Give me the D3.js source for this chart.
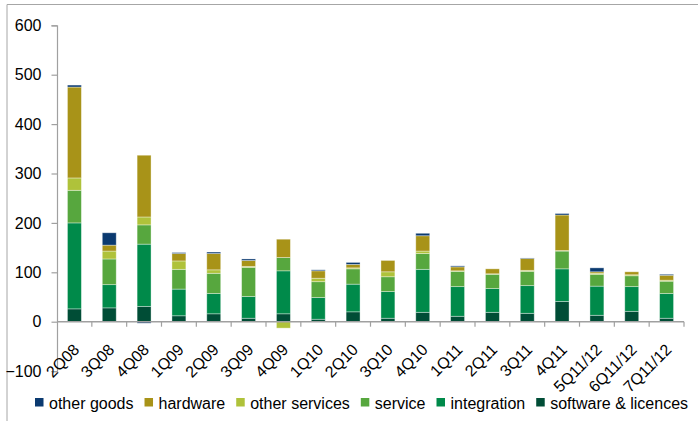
<!DOCTYPE html>
<html>
<head>
<meta charset="utf-8">
<script src="https://cdn.jsdelivr.net/npm/d3@7"></script>
<style>
  html, body { margin: 0; padding: 0; background: #fff; }
  svg { display: block; }
  text { font-family: "Liberation Sans", Arial, sans-serif; fill: #000; }
</style>
</head>
<body>
<svg id="chart" width="698" height="421"></svg>
<script>
// Quarters on the x axis
const categories = ["2Q08","3Q08","4Q08","1Q09","2Q09","3Q09","4Q09","1Q10","2Q10","3Q10",
                    "4Q10","1Q11","2Q11","3Q11","4Q11","5Q11/12","6Q11/12","7Q11/12"];

// Series values per quarter (stacked bottom to top)
const softwareLicences = [26, 28, 31, 12, 16, 7, 16, 5, 20, 7, 19, 11, 19, 17, 41, 13, 21, 7];
const integration      = [174, 47, 126, 54, 41, 44, 87, 44, 56, 54, 87, 60, 48, 56, 66, 59, 50, 50];
const service          = [66, 52, 39, 40, 41, 59, 27, 32, 31, 30, 32, 31, 29, 29, 36, 24, 22, 25];
const otherServices    = [25, 16, 16, 17, 7, 2, -13, 7, 2, 10, 5, 1, 1, 2, 1, 2, 2, 2];
const hardware         = [184, 12, 125, 15, 33, 12, 37, 15, 7, 23, 31, 8, 10, 24, 72, 3, 6, 10];
const otherGoods       = [4, 25, -3, 2, 3, 3, 0, 2, 4, 0, 5, 2, 0, 1, 3, 8, 0, 2];

// Y axis tick values
const yTicks = [-100, 0, 100, 200, 300, 400, 500, 600];

// Series definitions in stacking order
const series = [
  { key: "software & licences", values: softwareLicences, color: "#004d36" },
  { key: "integration",         values: integration,      color: "#008a4a" },
  { key: "service",             values: service,          color: "#57a73e" },
  { key: "other services",      values: otherServices,    color: "#afc23a" },
  { key: "hardware",            values: hardware,         color: "#a89318" },
  { key: "other goods",         values: otherGoods,       color: "#0b3a70" }
];
// Legend order
const legendOrder = ["other goods", "hardware", "other services", "service", "integration", "software & licences"];

const rows = categories.map((c, i) => {
  const r = { category: c };
  series.forEach(s => { r[s.key] = s.values[i]; });
  return r;
});

const svg = d3.select("#chart");
const margin = { left: 57, right: 684, top: 25.3, bottom: 371.1 };

const x = d3.scaleBand()
  .domain(categories)
  .range([margin.left, margin.right])
  .paddingInner(0.6)
  .paddingOuter(0.3);

const y = d3.scaleLinear()
  .domain([-100, 600])
  .range([margin.bottom, margin.top]);

const color = d3.scaleOrdinal()
  .domain(series.map(s => s.key))
  .range(series.map(s => s.color));

// Outer frame lines
svg.append("line").attr("x1", 7).attr("x2", 698).attr("y1", 4.5).attr("y2", 4.5)
  .attr("stroke", "#a6a6a6").attr("stroke-width", 1);
svg.append("line").attr("x1", 7).attr("x2", 7).attr("y1", 4.5).attr("y2", 421)
  .attr("stroke", "#a6a6a6").attr("stroke-width", 1);

// Stacked bars
const stack = d3.stack()
  .keys(series.map(s => s.key))
  .offset(d3.stackOffsetDiverging);
const stacked = stack(rows);

const layers = svg.append("g").selectAll("g")
  .data(stacked)
  .join("g")
  .attr("fill", d => color(d.key));

layers.selectAll("rect")
  .data(d => d.filter(p => p[1] !== p[0]))
  .join("rect")
  .attr("x", d => x(d.data.category))
  .attr("width", x.bandwidth())
  .attr("y", d => y(Math.max(d[0], d[1])))
  .attr("height", d => Math.abs(y(d[0]) - y(d[1])))
  .attr("stroke", "#ffffff")
  .attr("stroke-opacity", 0.45)
  .attr("stroke-width", 0.8);

// Y axis
const yAxis = d3.axisLeft(y).tickValues(yTicks).tickSize(5.5).tickPadding(10);
const yG = svg.append("g")
  .attr("transform", `translate(${margin.left},0)`)
  .call(yAxis);
yG.select(".domain").attr("stroke", "#a0a0a0").attr("stroke-width", 1.2);
yG.selectAll(".tick line").attr("stroke", "#a0a0a0").attr("stroke-width", 1.2);
yG.selectAll(".tick text")
  .style("font-family", "'Liberation Sans', Arial, sans-serif")
  .style("font-size", "16px")
  .attr("fill", "#000");

// X axis at zero with tick marks between categories
const step = x.step();
const xG = svg.append("g");
xG.append("line")
  .attr("x1", margin.left).attr("x2", margin.right)
  .attr("y1", y(0)).attr("y2", y(0))
  .attr("stroke", "#a0a0a0").attr("stroke-width", 1.5);
xG.selectAll("line.tick")
  .data(categories)
  .join("line")
  .attr("class", "tick")
  .attr("x1", d => x(d) + x.bandwidth() / 2 + step / 2)
  .attr("x2", d => x(d) + x.bandwidth() / 2 + step / 2)
  .attr("y1", y(0)).attr("y2", y(0) + 5)
  .attr("stroke", "#a0a0a0").attr("stroke-width", 1.2);

// Rotated category labels
xG.selectAll("text")
  .data(categories)
  .join("text")
  .attr("transform", d => `translate(${x(d) + x.bandwidth() / 2 + 6},${y(0) + 29}) rotate(-45)`)
  .attr("text-anchor", "end")
  .style("font-size", "16px")
  .text(d => d);

// Legend laid out left to right
const legend = svg.append("g").attr("transform", "translate(35,409)");
let cursor = 0;
legendOrder.forEach(k => {
  const g = legend.append("g").attr("transform", `translate(${cursor},0)`);
  g.append("rect").attr("x", 0).attr("y", -11).attr("width", 8.5).attr("height", 8.5)
    .attr("fill", color(k));
  const t = g.append("text").attr("x", 14).attr("y", 0).style("font-size", "16px").text(k);
  cursor += 14 + t.node().getComputedTextLength() + 11;
});
</script>
</body>
</html>
